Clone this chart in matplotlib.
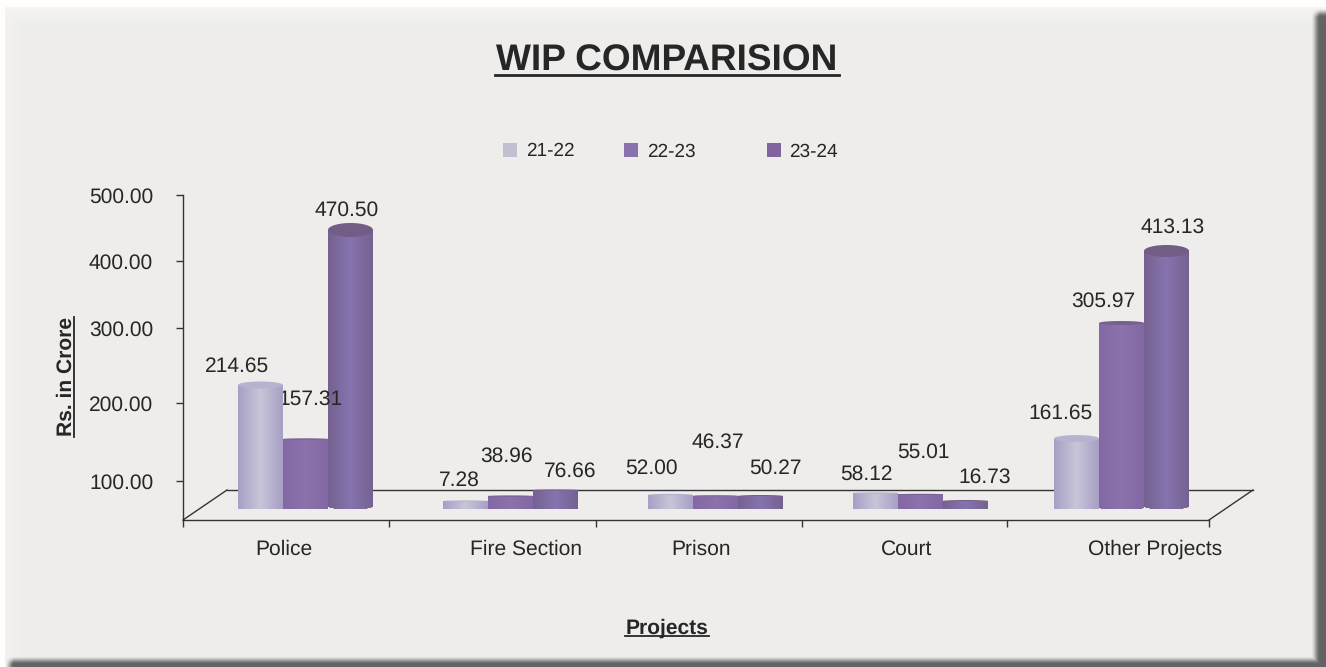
import numpy as np
import matplotlib
matplotlib.use("Agg")
import matplotlib.pyplot as plt
from matplotlib.lines import Line2D
from matplotlib.patches import Rectangle, Polygon
from matplotlib.path import Path
from matplotlib.ticker import NullLocator
from matplotlib.transforms import Affine2D, IdentityTransform

# ---- data ----
categories = ["Police", "Fire Section", "Prison", "Court", "Other Projects"]
series_names = ["21-22", "22-23", "23-24"]
values_21_22 = [214.65, 7.28, 52.00, 58.12, 161.65]
values_22_23 = [157.31, 38.96, 46.37, 55.01, 305.97]
values_23_24 = [470.50, 76.66, 50.27, 16.73, 413.13]
y_ticks = [100, 200, 300, 400, 500]
title = "WIP COMPARISION"
x_title = "Projects"
y_title = "Rs. in Crore"

# ---- layout and style ----
W, H = 1326, 667
plt.rcParams["font.family"] = ["Liberation Sans", "DejaVu Sans"]
plt.rcParams["text.hinting"] = "no_hinting"
plt.rcParams["text.hinting_factor"] = 1
INK = "#262626"
LINE = "#353535"
LABEL_SIZE = 15.4
px = Affine2D().scale(1, -1).translate(0, H)   # reference pixel coords -> display

# The reference's value axis is hand-adjusted and not linear: value -> pixel row
scale_vals = [-1000, -20, 0, 7.28, 16.73, 38.96, 46.37, 50.27, 52, 55.01, 58.12, 76.66, 100,
              157.31, 161.65, 200, 214.65, 300, 305.97, 400, 413.13, 470.5, 500, 2000]
scale_rows = [1010, 520, 509.5, 501, 500.5, 496, 495.7, 495.5, 494.5, 494.3, 493, 490, 481,
              439, 438.5, 403, 385, 328, 323, 261, 251, 230, 195, -1000]
scale_vals = np.array(scale_vals, float)
scale_rows = np.array(scale_rows, float)


def forward(v):
    return -np.interp(v, scale_vals, scale_rows)


def inverse(r):
    return np.interp(-np.asarray(r), scale_rows[::-1], scale_vals[::-1])


group_left = [238, 443, 648, 853, 1054]   # left edge of each group of cylinders
bar_width = 45
top_half = [[3.5, 0.6, 0.6, 0.6, 3.4],    # half height of top ellipse per series/group
            [0.7, 0.6, 0.5, 0.5, 2.0],
            [7.0, 0.5, 0.5, 0.5, 6.0]]
base_half = [[1.0, 0.5, 0.5, 0.5, 1.0],
             [1.0, 0.5, 0.5, 0.5, 1.5],
             [3.0, 0.5, 0.5, 0.5, 3.0]]
edge_col = ["#a79ec5", "#8268a4", "#75618f"]
mid_col = ["#c8c5d8", "#8b72ab", "#8573af"]
cap_col = ["#b5b3cd", "#75608f", "#725d86"]
legend_col = ["#c3bfd3", "#8a72ad", "#7f669f"]
legend_sq_x = [503, 624, 767]
legend_tx_x = [526, 647, 789]
cat_label_x = [284, 526, 701, 907, 1155]
tick_x = [183, 389, 596, 802, 1007, 1209]
label_pos = [
    [(237, 366), (459, 480), (651, 468), (866, 474), (1061, 413)],
    [(310, 399), (506, 456), (718, 442), (923, 452), (1103, 301)],
    [(347, 210), (570, 471), (775, 468), (985, 477), (1173, 227)],
]

fig = plt.figure(figsize=(W / 100, H / 100), dpi=100, facecolor="white")

# ---- panel with soft light edge and drop shadow ----
xx, yy = np.meshgrid(np.arange(W) + 0.5, np.arange(H) + 0.5)
base = 0xEE / 255
img = np.ones((H, W)) * 1.0
panel = np.full((H, W), base)
light = np.maximum(np.clip((24 - yy) / 17, 0, 1) * 0.030, np.clip((23 - xx) / 18, 0, 1) * 0.018)
panel = panel + light
inside = (xx >= 5) & (yy >= 7)
img[inside] = panel[inside]
sx = np.clip((xx - 1311) / 9, 0, 1) * np.clip((yy - 8) / 9, 0, 1)
sy = np.clip((yy - 656) / 8, 0, 1) * np.clip((xx - 5) / 9, 0, 1)
s = np.maximum(sx, sy)
s = s * s * (3 - 2 * s)
target = 0x64 / 255
img = img * (1 - s) + target * s
rgba = np.clip(np.dstack([img, img * 0.999, img * 0.99]), 0, 1)
fig.figimage(rgba, 0, 0, origin="upper", zorder=-10)

# ---- axes whose x data unit is one reference pixel ----
ax = fig.add_axes([183 / W, (H - 520) / H, (1209 - 183) / W, (520 - 195) / H])
ax.patch.set_visible(False)
ax.set_yscale("function", functions=(forward, inverse))
ax.set_xlim(183, 1209)
ax.set_ylim(-20, 500)
for side in ("top", "right"):
    ax.spines[side].set_visible(False)
for side in ("left", "bottom"):
    ax.spines[side].set_color(LINE)
    ax.spines[side].set_linewidth(1.0)
ax.set_yticks(y_ticks)
ax.set_yticklabels([f"{v:.2f}" for v in y_ticks], fontsize=LABEL_SIZE, color=INK, va="center")
ax.yaxis.set_minor_locator(NullLocator())
ax.tick_params(axis="y", length=5, width=1.0, color=LINE, pad=16.5)
for lbl in ax.get_yticklabels():
    lbl.set_transform(lbl.get_transform() + Affine2D().translate(0, -2.5))
ax.set_xticks(tick_x)
ax.set_xticklabels([""] * len(tick_x))
ax.tick_params(axis="x", length=5, width=1.0, color=LINE)

# floor back edge and side edges, behind the cylinders
for (x0, y0, x1, y1) in [(183, 520, 227, 490), (1209, 520, 1253, 490), (227, 490, 1253, 490)]:
    ax.add_line(Line2D([x0, x1], [y0, y1], color=LINE, lw=1.0, transform=px, zorder=1,
                       clip_on=False))

# ---- cylinders ----
fig.canvas.draw()
all_values = [values_21_22, values_22_23, values_23_24]
theta = np.linspace(0, np.pi, 60)
t_full = np.linspace(0, 2 * np.pi, 120)

for s_idx, vals in enumerate(all_values):
    e = np.array(matplotlib.colors.to_rgb(edge_col[s_idx]))
    m = np.array(matplotlib.colors.to_rgb(mid_col[s_idx]))
    for g_idx, v in enumerate(vals):
        x0 = group_left[g_idx] + s_idx * bar_width
        x1 = x0 + bar_width
        cx = (x0 + x1) / 2
        z = 5 if s_idx == 0 else 3 + 0.1 * s_idx
        xs = np.linspace(x0, x1, 46)
        t = (np.arange(45) + 0.5) / 45
        w = np.abs(2 * t - 1)
        col = (m[None, :] * (1 - w[:, None]) + e[None, :] * w[:, None])[None, :, :]
        mesh = ax.pcolormesh(xs, [0, v], col, shading="flat", zorder=z,
                             linewidth=0, antialiased=False)
        top = ax.transData.transform((cx, v))
        base_pt = ax.transData.transform((cx, 0))
        dx0 = ax.transData.transform((x0, 0))[0]
        dx1 = ax.transData.transform((x1, 0))[0]
        half = (dx1 - dx0) / 2
        hb = base_half[s_idx][g_idx]
        ht = top_half[s_idx][g_idx]
        bottom_y = base_pt[1] + hb
        arc_x = top[0] - half * np.cos(theta)
        arc_bottom = bottom_y - hb * np.sin(theta)
        outline = np.vstack([np.column_stack([arc_x, arc_bottom]),
                             [[dx1, top[1]], [dx0, top[1]]]])
        mesh.set_clip_path(Path(outline, closed=False), IdentityTransform())
        cap = np.column_stack([top[0] + half * np.cos(t_full), top[1] + ht * np.sin(t_full)])
        ax.add_patch(Polygon(cap, closed=True, facecolor=cap_col[s_idx], edgecolor="none",
                             transform=IdentityTransform(), zorder=z, clip_on=False))
        lx, ly = label_pos[s_idx][g_idx]
        ax.text(lx, ly, f"{v:.2f}", transform=px, ha="center", va="center", fontsize=LABEL_SIZE,
                color=INK, zorder=4)

# category labels
for name, x in zip(categories, cat_label_x):
    ax.text(x, 549, name, transform=px, ha="center", va="center", fontsize=LABEL_SIZE, color=INK)

# ---- title and axis titles, underlined ----
fig.text(667, 61, title, transform=px, ha="center", va="center", fontsize=26.9,
         fontweight="bold", color=INK)
fig.add_artist(Line2D([495, 839], [75, 75], color=INK, lw=2.0, transform=px))
fig.text(667, 628, x_title, transform=px, ha="center", va="center", fontsize=15.4,
         fontweight="bold", color=INK)
fig.add_artist(Line2D([625, 709], [636, 636], color=INK, lw=1.3, transform=px))
fig.text(66, 377, y_title, transform=px, ha="center", va="center", rotation=90, fontsize=15,
         fontweight="bold", color=INK)
fig.add_artist(Line2D([74, 74], [317, 437], color=INK, lw=1.3, transform=px))

# ---- legend ----
for name, col, sq, tx in zip(series_names, legend_col, legend_sq_x, legend_tx_x):
    fig.add_artist(Rectangle((sq, 143), 14, 14, facecolor=col, edgecolor="none", transform=px))
    fig.text(tx, 151.5, name, transform=px, ha="left", va="center", fontsize=13.4, color=INK)

fig.savefig("out.png", dpi=100, facecolor="white")
